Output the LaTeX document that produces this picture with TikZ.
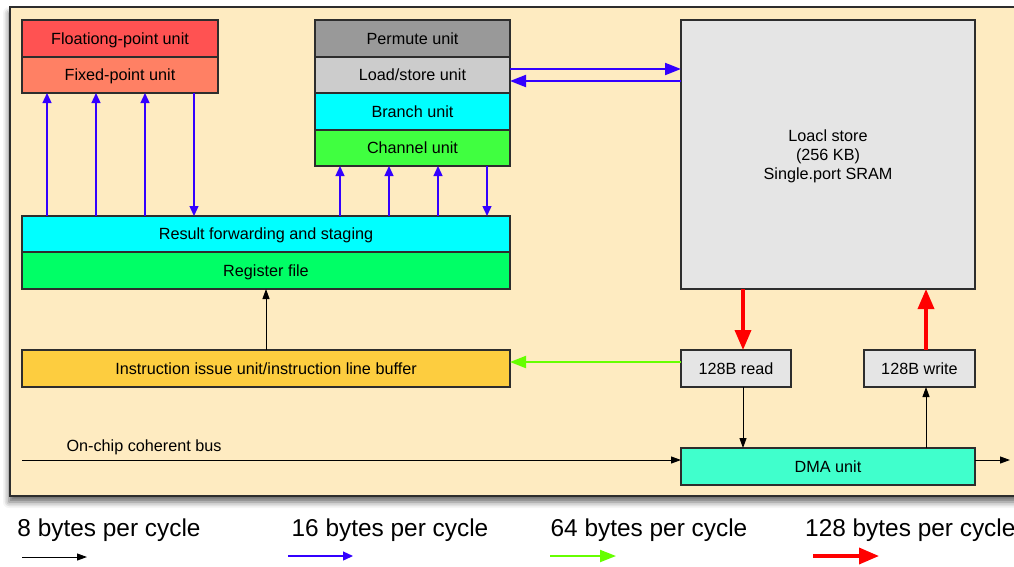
\documentclass[tikz,border=0pt]{standalone}
\usepackage{fontspec}
\setmainfont{Liberation Sans}
\usetikzlibrary{arrows.meta,shadows.blur}
\definecolor{panel}{RGB}{254,235,193}
\definecolor{boxline}{RGB}{45,45,45}
\definecolor{cfloat}{RGB}{255,82,82}
\definecolor{cfixed}{RGB}{255,128,100}
\definecolor{cperm}{RGB}{153,153,153}
\definecolor{cload}{RGB}{204,204,204}
\definecolor{ccyan}{RGB}{0,255,255}
\definecolor{cchan}{RGB}{64,255,64}
\definecolor{creg}{RGB}{0,255,102}
\definecolor{cins}{RGB}{253,205,63}
\definecolor{cgray}{RGB}{229,229,229}
\definecolor{cdma}{RGB}{64,255,204}
\definecolor{cblue}{RGB}{51,0,255}
\definecolor{cgreen}{RGB}{102,255,0}
\definecolor{cred}{RGB}{255,0,0}
\begin{document}
\begin{tikzpicture}[x=1pt,y=-1pt,
  boxbase/.style={draw=boxline, line width=1.2pt, inner sep=0pt, outer sep=0pt,
    font=\fontsize{16.2}{19}\selectfont, align=center},
  box/.style={boxbase, text height=11.6pt, text depth=0pt},
  bluearr/.style={draw=cblue, line width=1.3pt, -{Triangle[length=10pt,width=9pt]}},
  bigblue/.style={draw=cblue, line width=2pt, -{Triangle[length=16pt,width=12pt]}},
  redarr/.style={draw=cred, line width=3.5pt, -{Triangle[length=20pt,width=16pt]}},
  greenarr/.style={draw=cgreen, line width=2pt, -{Triangle[length=16pt,width=12pt]}},
  blackarr/.style={draw=black, line width=1pt, -{Triangle[length=10pt,width=7pt]}},
  legend/.style={font=\fontsize{24.4}{28}\selectfont, inner sep=0pt}
]
\useasboundingbox (0,0) rectangle (1014,566);
% panel
\node[draw=boxline, line width=1.2pt, fill=panel, inner sep=0pt, outer sep=0pt,
  minimum width=1020pt, minimum height=489pt, anchor=north west,
  blur shadow={shadow xshift=-1pt, shadow yshift=-6pt, shadow blur radius=6pt, shadow opacity=60}]
  (panelbox) at (10,7) {};
% left units
\node[box, fill=cfloat, minimum width=196pt, minimum height=37pt] (fp) at (120,38.5) {Floationg-point unit};
\node[box, fill=cfixed, minimum width=196pt, minimum height=36pt] (fx) at (120,75) {Fixed-point unit};
% right units
\node[box, fill=cperm, minimum width=195pt, minimum height=37pt] (pm) at (412.5,38.5) {Permute unit};
\node[box, fill=cload, minimum width=195pt, minimum height=36pt] (ls) at (412.5,75) {Load/store unit};
\node[box, fill=ccyan, minimum width=195pt, minimum height=37pt] (br) at (412.5,111.5) {Branch unit};
\node[box, fill=cchan, minimum width=195pt, minimum height=36pt] (ch) at (412.5,148) {Channel unit};
% result / register
\node[box, fill=ccyan, minimum width=488pt, minimum height=36pt] (rf) at (266,234) {Result forwarding and staging};
\node[box, fill=creg, minimum width=488pt, minimum height=37pt] (rg) at (266,270.5) {Register file};
% local store
\node[boxbase, fill=cgray, minimum width=294pt, minimum height=269pt, text depth=0pt] (store) at (828,154.5) {Loacl store\\(256 KB)\\Single.port SRAM};
% instruction
\node[box, fill=cins, minimum width=488pt, minimum height=37pt] (ins) at (266,368.5) {Instruction issue unit/instruction line buffer};
% read / write
\node[box, fill=cgray, minimum width=110pt, minimum height=37pt] (rd) at (736,368.5) {128B read};
\node[box, fill=cgray, minimum width=111pt, minimum height=37pt] (wr) at (919.5,368.5) {128B write};
% DMA
\node[box, fill=cdma, minimum width=294pt, minimum height=37pt] (dma) at (828,466.5) {DMA unit};

% blue arrows left
\draw[bluearr] (47,0 |- rf.north) -- (47,0 |- fx.south);
\draw[bluearr] (96,0 |- rf.north) -- (96,0 |- fx.south);
\draw[bluearr] (145,0 |- rf.north) -- (145,0 |- fx.south);
\draw[bluearr] (194,0 |- fx.south) -- (194,0 |- rf.north);
% blue arrows right
\draw[bluearr] (340,0 |- rf.north) -- (340,0 |- ch.south);
\draw[bluearr] (389,0 |- rf.north) -- (389,0 |- ch.south);
\draw[bluearr] (438,0 |- rf.north) -- (438,0 |- ch.south);
\draw[bluearr] (487,0 |- ch.south) -- (487,0 |- rf.north);
% load/store <-> local store
\draw[bigblue] (ls.east |- 0,69) -- (store.west |- 0,69);
\draw[bigblue] (store.west |- 0,81) -- (ls.east |- 0,81);
% register file <- instruction
\draw[blackarr] (ins.north) -- (rg.south);
% red
\draw[redarr] (743,0 |- store.south) -- (743,0 |- rd.north);
\draw[redarr] (926,0 |- wr.north) -- (926,0 |- store.south);
% green
\draw[greenarr] (rd.west |- 0,362) -- (ins.east |- 0,362);
% black DMA
\draw[blackarr] (743,0 |- rd.south) -- (743,0 |- dma.north);
\draw[blackarr] (926,0 |- dma.north) -- (926,0 |- wr.south);
% bus
\coordinate (busstart) at (22,460);
\coordinate (busend) at (1010,460);
\draw[blackarr] (busstart) -- (dma.west |- busstart);
\draw[blackarr] (dma.east |- busend) -- (busend);
\node[font=\fontsize{16.2}{19}\selectfont, inner sep=0pt] (buslabel) at (144,447) {On-chip coherent bus};

% legend
\node[legend] (l8) at (109,530) {8 bytes per cycle};
\node[legend] (l16) at (390,530) {16 bytes per cycle};
\node[legend] (l64) at (649,530) {64 bytes per cycle};
\node[legend, anchor=west] (l128) at (805,530) {128 bytes per cycle};
\coordinate (a8s) at (22,557); \coordinate (a8e) at (87,557);
\coordinate (a16s) at (288,556); \coordinate (a16e) at (353,556);
\coordinate (a64s) at (550,556); \coordinate (a64e) at (616,556);
\coordinate (a128s) at (813,556); \coordinate (a128e) at (879,556);
\draw[blackarr] (a8s) -- (a8e);
\draw[bluearr] (a16s) -- (a16e);
\draw[greenarr] (a64s) -- (a64e);
\draw[redarr] (a128s) -- (a128e);
\end{tikzpicture}
\end{document}
